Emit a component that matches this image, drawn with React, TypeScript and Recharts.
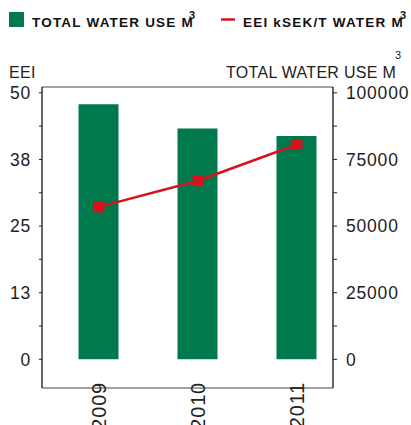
import React from "react";
import {
  ComposedChart,
  Bar,
  Line,
  XAxis,
  YAxis,
  CartesianGrid,
} from "recharts";

const years = [2009, 2010, 2011];
const waterUse = [95700, 86600, 83800];
const eei = [28.6, 33.5, 40.3];

const eeiTicks = [0, 6.25, 12.5, 18.75, 25, 31.25, 37.5, 43.75, 50];
const waterTicks = [0, 12500, 25000, 37500, 50000, 62500, 75000, 87500, 100000];

const GREEN = "#007a4d";
const RED = "#d7121b";
const FONT = "'Liberation Sans', Arial, sans-serif";

const rows = years.map((year, i) => ({
  year,
  water: waterUse[i],
  eei: eei[i],
}));

const YearTick = (props: any) => {
  const { x, y, payload } = props;
  return (
    <text
      transform={`translate(${x},${y - 6}) rotate(-90)`}
      textAnchor="end"
      dy="0.36em"
      fontSize={20}
      fontFamily={FONT}
      letterSpacing={0.8}
      fill="#222"
    >
      {payload.value}
    </text>
  );
};

const SquareDot = (props: any) => {
  const { cx, cy, index } = props;
  return (
    <rect key={`dot-${index}`} x={cx - 5.5} y={cy - 5.5} width={11} height={11} fill={RED} />
  );
};

const App: React.FC = () => {
  return (
    <div
      style={{
        position: "absolute",
        left: 0,
        top: 0,
        width: 411,
        height: 425,
        overflow: "hidden",
        background: "#fff",
      }}
    >
      <ComposedChart
        width={411}
        height={425}
        data={rows}
        margin={{ top: 87, right: 0, bottom: 0, left: 0 }}
      >
        <CartesianGrid vertical={false} stroke="#444" strokeWidth={1} />
        <XAxis
          dataKey="year"
          type="number"
          domain={[2008.424, 2011.364]}
          ticks={years}
          allowDataOverflow
          axisLine={false}
          tickLine={false}
          tickSize={0}
          tickMargin={0}
          height={37}
          tick={<YearTick />}
        />
        <YAxis
          yAxisId="eei"
          orientation="left"
          width={42}
          domain={[-5.38, 51.09]}
          allowDataOverflow
          ticks={eeiTicks}
          interval={0}
          tickFormatter={(v: number) => (v % 12.5 === 0 ? String(Math.round(v)) : "")}
          axisLine={{ stroke: "#000", strokeWidth: 1.2 }}
          tickLine={{ stroke: "#222" }}
          tickSize={3}
          tickMargin={8}
          tick={{ fill: "#222", fontSize: 17.5, fontFamily: FONT, letterSpacing: 0.8 }}
        />
        <YAxis
          yAxisId="water"
          orientation="right"
          width={78}
          domain={[-10760, 102180]}
          allowDataOverflow
          ticks={waterTicks}
          interval={0}
          tickFormatter={(v: number) => (v % 25000 === 0 ? String(v) : "")}
          axisLine={{ stroke: "#000", strokeWidth: 1.2 }}
          tickLine={{ stroke: "#222" }}
          tickSize={4}
          tickMargin={9}
          tick={{ fill: "#222", fontSize: 17.5, fontFamily: FONT, letterSpacing: 0.8, textAnchor: "start" }}
        />
        <Bar
          yAxisId="water"
          dataKey="water"
          fill={GREEN}
          barSize={40}
          isAnimationActive={false}
        />
        <Line
          yAxisId="eei"
          dataKey="eei"
          stroke={RED}
          strokeWidth={2.5}
          dot={<SquareDot />}
          activeDot={false}
          isAnimationActive={false}
        />
      </ComposedChart>
      <svg
        width={411}
        height={90}
        style={{ position: "absolute", left: 0, top: 0, pointerEvents: "none" }}
        fontFamily={FONT}
      >
        <rect x={9} y={12} width={15} height={15} fill={GREEN} />
        <text x={32} y={26.7} fontSize={13.5} fontWeight="bold" letterSpacing={1.2} fill="#111">
          TOTAL WATER USE M
        </text>
        <text x={189} y={18.5} fontSize={11} fontWeight="bold" fill="#111">
          3
        </text>
        <line x1={221} x2={235} y1={19.5} y2={19.5} stroke={RED} strokeWidth={2.5} />
        <text x={243} y={26.7} fontSize={13.5} fontWeight="bold" letterSpacing={1.2} fill="#111">
          EEI kSEK/T WATER M
        </text>
        <text x={400} y={18.5} fontSize={11} fontWeight="bold" fill="#111">
          3
        </text>
        <text x={9} y={77.7} fontSize={16} fill="#222" letterSpacing={0.3}>
          EEI
        </text>
        <text x={226} y={77.7} fontSize={16} fill="#222" letterSpacing={0.3}>
          TOTAL WATER USE M
        </text>
        <text x={395} y={58.5} fontSize={11} fill="#222">
          3
        </text>
      </svg>
    </div>
  );
};

export default App;
